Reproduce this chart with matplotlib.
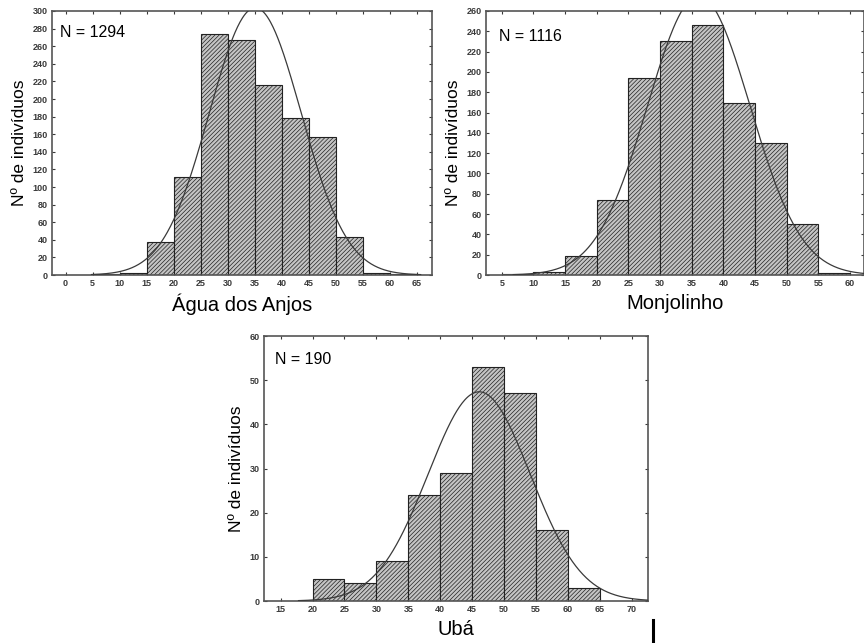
import numpy as np
import matplotlib
matplotlib.use("Agg")
import matplotlib.pyplot as plt
from matplotlib.lines import Line2D

plt.rcParams['font.family'] = ['Liberation Sans', 'DejaVu Sans']
plt.rcParams['hatch.linewidth'] = 0.5

# bin edges are 5 units wide, counts per bin
agua_bins = [5, 10, 15, 20, 25, 30, 35, 40, 45, 50, 55, 60]
agua_counts = [1, 2, 38, 111, 274, 267, 216, 178, 157, 43, 2, 1]
agua_n = 1294
agua_mean, agua_sd = 35.1, 8.5

monj_bins = [5, 10, 15, 20, 25, 30, 35, 40, 45, 50, 55]
monj_counts = [1, 3, 19, 74, 194, 230, 246, 169, 130, 50, 2]
monj_n = 1116
monj_mean, monj_sd = 36.1, 8.1

uba_bins = [20, 25, 30, 35, 40, 45, 50, 55, 60]
uba_counts = [5, 4, 9, 24, 29, 53, 47, 16, 3]
uba_n = 190
uba_mean, uba_sd = 46.1, 8.0

binw = 5


def normal_counts(x, n, mu, sd):
    # expected counts for normal fit, same scale as histogram
    return n * binw / (sd * np.sqrt(2 * np.pi)) * np.exp(-0.5 * ((x - mu) / sd) ** 2)


def draw_panel(ax, bins, counts, n, mu, sd, xlim, ylim, xticks, yticks,
               curve_rng, xlabel, ntxt_pos):
    ax.bar(bins, counts, width=binw, align='edge', facecolor='#c4c4c4',
           edgecolor='#222222', linewidth=0.8, hatch='////////', zorder=2)
    xs = np.linspace(curve_rng[0], curve_rng[1], 400)
    ax.plot(xs, normal_counts(xs, n, mu, sd), color='#3a3a3a', lw=0.9, zorder=3)
    ax.set_xlim(*xlim)
    ax.set_ylim(*ylim)
    ax.set_xticks(xticks)
    ax.set_yticks(yticks)
    ax.tick_params(direction='in', length=2.5, width=0.8, top=True, right=True,
                   labelsize=6.5, colors='#3a3a3a', pad=3)
    for lab in ax.get_xticklabels() + ax.get_yticklabels():
        lab.set_fontweight('bold')
    for s in ax.spines.values():
        s.set_color('#555555')
        s.set_linewidth(1.2)
    ax.set_ylabel('Nº de indivíduos', fontsize=12.5, labelpad=4)
    ax.set_xlabel(xlabel, fontsize=14.5, labelpad=4)
    ax.text(ntxt_pos[0], ntxt_pos[1], 'N = %d' % n, transform=ax.transAxes,
            fontsize=11.5, va='center', ha='left')


fig = plt.figure(figsize=(8.64, 6.43), dpi=100)

ax1 = fig.add_axes([0.0602, 0.5723, 0.4398, 0.4106])
draw_panel(ax1, agua_bins, agua_counts, agua_n, agua_mean, agua_sd,
           (-2.5, 67.8), (0, 300), np.arange(0, 70, 5), np.arange(0, 320, 20),
           (4.8, 65.7), 'Água dos Anjos', (0.02, 0.92))

ax2 = fig.add_axes([0.5625, 0.5723, 0.4375, 0.4106])
draw_panel(ax2, monj_bins, monj_counts, monj_n, monj_mean, monj_sd,
           (2.5, 62.2), (0, 260), np.arange(5, 65, 5), np.arange(0, 280, 20),
           (6.8, 62.5), 'Monjolinho', (0.034, 0.905))

ax3 = fig.add_axes([0.3056, 0.0653, 0.4444, 0.4121])
draw_panel(ax3, uba_bins, uba_counts, uba_n, uba_mean, uba_sd,
           (12.4, 72.55), (0, 60), np.arange(15, 75, 5), np.arange(0, 70, 10),
           (17.8, 72.5), 'Ubá', (0.029, 0.913))

# stray cursor mark at the bottom right of the source image
fig.add_artist(Line2D([0.7558, 0.7558], [0.0, 0.035], transform=fig.transFigure,
                      color='black', lw=2.2))

fig.savefig('out.png', dpi=100)
